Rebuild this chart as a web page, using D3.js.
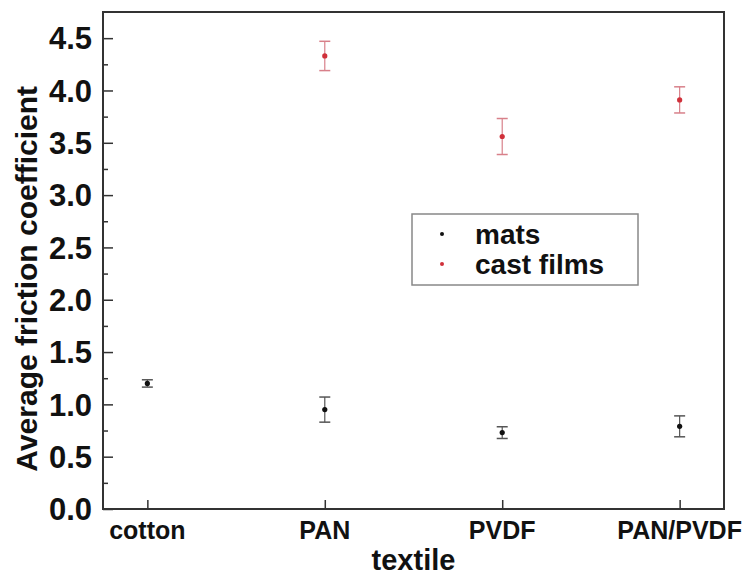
<!DOCTYPE html>
<html><head><meta charset="utf-8">
<script src="https://cdn.jsdelivr.net/npm/d3@7/dist/d3.min.js"></script>
<style>body{margin:0;background:#fff}svg{display:block}</style>
</head><body><div id="chart"></div>
<script>
const categories = ["cotton", "PAN", "PVDF", "PAN/PVDF"];
const matsValues = [1.20, 0.95, 0.73, 0.79];
const matsErrors = [0.035, 0.12, 0.056, 0.10];
const filmCategories = ["PAN", "PVDF", "PAN/PVDF"];
const filmValues = [4.33, 3.56, 3.91];
const filmErrors = [0.14, 0.172, 0.125];
const yTicks = [0, 0.5, 1.0, 1.5, 2.0, 2.5, 3.0, 3.5, 4.0, 4.5];
const yMinorTicks = [0.25, 0.75, 1.25, 1.75, 2.25, 2.75, 3.25, 3.75, 4.25];
const seriesNames = ["mats", "cast films"];
const seriesColors = ["#111", "#d0303a"];
const errColors = ["#555", "#d8808a"];

const W = 753, H = 576;
const m = {left: 103, right: 29, top: 12, bottom: 67};
const svg = d3.select("#chart").append("svg").attr("width", W).attr("height", H);
const font = "'Liberation Sans', Arial, sans-serif";

const x = d3.scaleLinear().domain([-0.25, 3.25]).range([m.left, W - m.right]);
const y = d3.scaleLinear().domain([0, 4.75]).range([H - m.bottom, m.top]);

// y axis major ticks (inward)
const yAxis = d3.axisRight(y).tickValues(yTicks).tickSize(10).tickFormat("");
const gy = svg.append("g").attr("transform", `translate(${m.left},0)`).call(yAxis);
gy.select(".domain").remove();
gy.selectAll("line").attr("stroke", "#333").attr("stroke-width", 1.5);
const yAxisMinor = d3.axisRight(y).tickValues(yMinorTicks).tickSize(5).tickFormat("");
const gym = svg.append("g").attr("transform", `translate(${m.left},0)`).call(yAxisMinor);
gym.select(".domain").remove();
gym.selectAll("line").attr("stroke", "#333").attr("stroke-width", 1.5);

// y tick labels
svg.append("g").selectAll("text").data(yTicks).join("text")
  .attr("x", m.left - 11).attr("y", d => y(d)).attr("dy", "0.36em")
  .attr("text-anchor", "end").attr("font-family", font).attr("font-weight", "bold")
  .attr("font-size", 31).attr("fill", "#111")
  .text(d => d3.format(".1f")(d));

// x axis ticks (inward)
const xAxis = d3.axisTop(x).tickValues(d3.range(categories.length)).tickSize(9).tickFormat("");
const gx = svg.append("g").attr("transform", `translate(0,${H - m.bottom})`).call(xAxis);
gx.select(".domain").remove();
gx.selectAll("line").attr("stroke", "#333").attr("stroke-width", 1.5);
svg.append("g").selectAll("text").data(categories).join("text")
  .attr("x", (d, i) => x(i)).attr("y", H - m.bottom + 30)
  .attr("text-anchor", "middle").attr("font-family", font).attr("font-weight", "bold")
  .attr("font-size", 25).attr("fill", "#111").text(d => d);

// frame
svg.append("rect").attr("x", m.left).attr("y", m.top)
  .attr("width", W - m.left - m.right).attr("height", H - m.top - m.bottom)
  .attr("fill", "none").attr("stroke", "#333").attr("stroke-width", 2);

// axis titles
svg.append("text").attr("x", x(1.5)).attr("y", H - 6)
  .attr("text-anchor", "middle").attr("font-family", font).attr("font-weight", "bold")
  .attr("font-size", 29).attr("fill", "#111").text("textile");
svg.append("text").attr("transform", `translate(37,${y(2.2)}) rotate(-90)`)
  .attr("text-anchor", "middle").attr("font-family", font).attr("font-weight", "bold")
  .attr("font-size", 30).attr("fill", "#111").text("Average friction coefficient");

// series drawing
function drawSeries(cats, vals, errs, color, ecolor) {
  const g = svg.append("g");
  const data = cats.map((c, i) => ({i: categories.indexOf(c), v: vals[i], e: errs[i]}));
  const cap = 5.5;
  data.forEach(d => {
    const cx = x(d.i);
    g.append("line").attr("x1", cx).attr("x2", cx).attr("y1", y(d.v - d.e)).attr("y2", y(d.v + d.e))
      .attr("stroke", ecolor).attr("stroke-width", 1.2);
    [d.v - d.e, d.v + d.e].forEach(v => {
      g.append("line").attr("x1", cx - cap).attr("x2", cx + cap).attr("y1", y(v)).attr("y2", y(v))
        .attr("stroke", ecolor).attr("stroke-width", 1.5);
    });
    g.append("circle").attr("cx", cx).attr("cy", y(d.v)).attr("r", 2.6).attr("fill", color);
  });
}
drawSeries(categories, matsValues, matsErrors, seriesColors[0], errColors[0]);
drawSeries(filmCategories, filmValues, filmErrors, seriesColors[1], errColors[1]);

// legend
const lg = svg.append("g");
lg.append("rect").attr("x", 412).attr("y", 214).attr("width", 226).attr("height", 71)
  .attr("fill", "#fff").attr("stroke", "#888").attr("stroke-width", 1.5);
seriesNames.forEach((s, i) => {
  lg.append("circle").attr("cx", 442).attr("cy", 234 + i * 30).attr("r", 2).attr("fill", seriesColors[i]);
  lg.append("text").attr("x", 475).attr("y", 244 + i * 30).attr("font-family", font)
    .attr("font-weight", "bold").attr("font-size", 28).attr("fill", "#111").text(s);
});
</script>
</body></html>
